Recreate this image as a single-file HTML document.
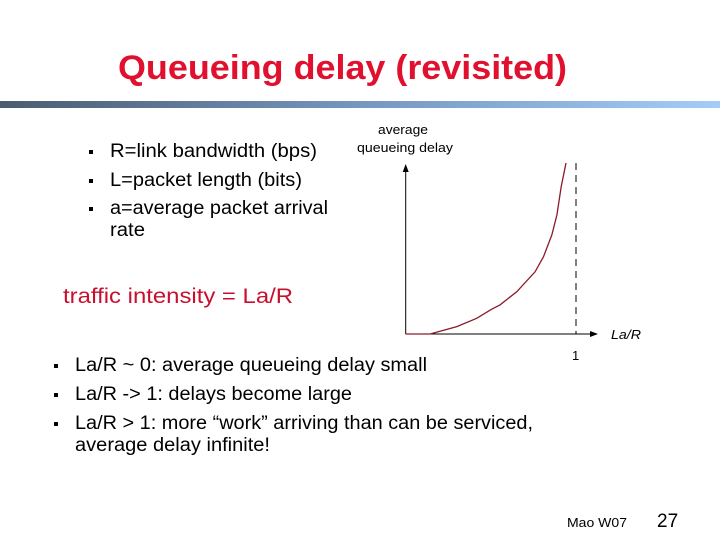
<!DOCTYPE html>
<html><head><meta charset="utf-8"><style>
body{margin:0;background:#fff}
svg{display:block;font-family:"Liberation Sans",sans-serif}
</style></head><body>
<svg width="720" height="540" viewBox="0 0 720 540">
<defs><linearGradient id="bar" x1="0" x2="1"><stop offset="0" stop-color="#4a5c70"/><stop offset="0.5" stop-color="#7596c0"/><stop offset="1" stop-color="#a3cdf7"/></linearGradient></defs>
<text x="118" y="79" font-size="34" font-weight="bold" fill="#e0102e" textLength="449" lengthAdjust="spacingAndGlyphs">Queueing delay (revisited)</text>
<rect x="0" y="101" width="720" height="7" fill="url(#bar)"/>
<g font-size="19" fill="#000">
<rect x="89" y="150" width="4" height="4" fill="#000"/><text x="110" y="157" textLength="207" lengthAdjust="spacingAndGlyphs">R=link bandwidth (bps)</text>
<rect x="89" y="179" width="4" height="4" fill="#000"/><text x="110" y="186" textLength="192" lengthAdjust="spacingAndGlyphs">L=packet length (bits)</text>
<rect x="89" y="207" width="4" height="4" fill="#000"/><text x="110" y="214" textLength="218" lengthAdjust="spacingAndGlyphs">a=average packet arrival</text>
<text x="110" y="236" textLength="35" lengthAdjust="spacingAndGlyphs">rate</text>
</g>
<text x="63" y="303" font-size="21" fill="#c8102e" textLength="230" lengthAdjust="spacingAndGlyphs">traffic intensity = La/R</text>
<g font-size="19" fill="#000">
<rect x="54" y="364" width="4" height="4" fill="#000"/><text x="75" y="371" textLength="352" lengthAdjust="spacingAndGlyphs">La/R ~ 0: average queueing delay small</text>
<rect x="54" y="393" width="4" height="4" fill="#000"/><text x="75" y="400" textLength="277" lengthAdjust="spacingAndGlyphs">La/R -&gt; 1: delays become large</text>
<rect x="54" y="422" width="4" height="4" fill="#000"/><text x="75" y="429" textLength="458" lengthAdjust="spacingAndGlyphs">La/R &gt; 1: more “work” arriving than can be serviced,</text>
<text x="75" y="451" textLength="195" lengthAdjust="spacingAndGlyphs">average delay infinite!</text>
</g>
<g id="chart"></g>
<text x="567" y="527" font-size="13" textLength="60" lengthAdjust="spacingAndGlyphs">Mao W07</text>
<text x="657" y="527" font-size="19">27</text>
</svg>
<script>
const utilization=[0,0.143,0.3,0.417,0.505,0.554,0.652,0.76,0.809,0.858,0.888,0.913,0.941];
const delay=[0,0,0.043,0.092,0.145,0.170,0.247,0.364,0.452,0.579,0.696,0.862,1.0];
const xTickLabels=["1"];
const xTickValues=[1];
const NS="http://www.w3.org/2000/svg";
const X0=405.7,Y0=334;
const sx=v=>X0+v*170.3, sy=v=>Y0-v*171;
const g=document.getElementById('chart');
function mk(t,a){const e=document.createElementNS(NS,t);for(const k in a)e.setAttribute(k,a[k]);g.appendChild(e);return e;}
let e;
e=mk('line',{x1:X0,y1:Y0,x2:X0,y2:170,stroke:'#000','stroke-width':1});


e=mk('polygon',{points:`${X0-3},172 ${X0+3},172 ${X0},164`,fill:'#000'});


e=mk('line',{x1:X0,y1:Y0,x2:592,y2:Y0,stroke:'#000','stroke-width':1});


e=mk('polygon',{points:`590,${Y0-3} 590,${Y0+3} 598,${Y0}`,fill:'#000'});


xTickValues.forEach((v,i)=>{
 e=mk('line',{x1:sx(v),y1:sy(1.0),x2:sx(v),y2:Y0,stroke:'#000','stroke-width':1,'stroke-dasharray':'7,5'});
 
 
 e=mk('text',{x:sx(v)-4,y:360,'font-size':13});
 e.textContent=xTickLabels[i];
 
 
});
e=mk('path',{d:utilization.map((u,i)=>(i?'L':'M')+sx(u).toFixed(1)+','+sy(delay[i]).toFixed(1)).join(' '),fill:'none',stroke:'#8a1a2a','stroke-width':1.3});


e=mk('text',{x:611,y:339,'font-size':13,'font-style':'italic',textLength:30,lengthAdjust:'spacingAndGlyphs'});
e.textContent='La/R';


e=mk('text',{x:378,y:134,'font-size':13,textLength:50,lengthAdjust:'spacingAndGlyphs'});
e.textContent='average';


e=mk('text',{x:357,y:152,'font-size':13,textLength:96,lengthAdjust:'spacingAndGlyphs'});
e.textContent='queueing delay';


</script>
</body></html>
